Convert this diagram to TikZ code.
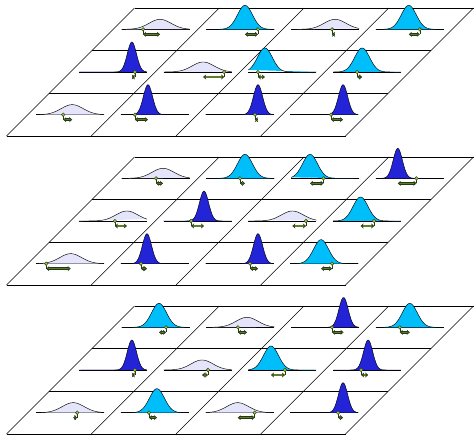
\documentclass[tikz,border=0pt]{standalone}
\usetikzlibrary{arrows.meta}
\definecolor{colL}{RGB}{228,228,250}
\definecolor{colC}{RGB}{0,190,250}
\definecolor{colD}{RGB}{35,35,215}
\definecolor{olv}{RGB}{95,125,45}
\definecolor{dotc}{RGB}{160,195,70}
\definecolor{dkg}{RGB}{35,55,20}
\def\hL{10}\def\sL{11}
\def\hC{24}\def\sC{7.5}
\def\hD{30}\def\sD{4.6}
\begin{document}
\begin{tikzpicture}[x=1pt,y=-1pt,
  gridline/.style={black,line width=0.6pt},
  baseline/.style={black,line width=0.6pt},
  bell/.style={draw=black,line width=0.45pt},
  arrow under/.style={dkg,line width=2.6pt,shorten <=2pt,shorten >=2pt},
  shift arrow/.style={olv,line width=1.4pt,{Stealth[length=3pt,width=5pt,color=dkg,fill=olv,line width=0.4pt]}-{Stealth[length=3pt,width=5pt,color=dkg,fill=olv,line width=0.4pt]}},
  stem/.style={dkg,line width=0.5pt},
  sample/.style={fill=dotc,draw=dkg,line width=0.4pt}]
\useasboundingbox (0,0) rectangle (474,434);
% grids
\foreach \lay in {0,1,2} {
  \pgfmathsetmacro\yt{8+149*\lay}
  \foreach \k in {0,...,3} {
    \draw[gridline] (134.5-\k*128/3,\yt+\k*128/3) -- ++(339,0);
  }
  \foreach \k in {0,...,4} {
    \draw[gridline] (134.5+\k*84.75,\yt) -- ++(-128,128);
  }
}
% cells
\foreach \lay/\row/\col/\typ/\mn/\ds in {
0/0/0/L/4.5/-12.5, 0/0/1/C/4.7/17.7, 0/0/2/L/10/7, 0/0/3/C/-1/10,
0/1/0/D/19/22, 0/1/1/L/5.5/26.5, 0/1/2/C/-17.5/-24.5, 0/1/3/C/-5/-10,
0/2/0/L/2/-7, 0/2/1/D/-7/-20, 0/2/2/D/18.3/15.3, 0/2/3/D/18.6/6.6,
1/0/0/L/7.5/0.5, 1/0/1/C/4.7/-0.3, 1/0/2/C/-15/-1.5, 1/0/3/D/-12/6.7,
1/1/0/L/14/2, 1/1/1/D/6.4/-6.6, 1/1/2/L/10/23.6, 1/1/3/C/-6.6/7,
1/2/0/L/0.5/-24, 1/2/1/D/-8/-14, 1/2/2/D/18.3/10.3, 1/2/3/C/-3.4/7.6,
2/0/0/C/3.5/10.5, 2/0/1/L/6.7/-2.3, 2/0/2/D/18.5/7, 2/0/3/C/0/-10,
2/1/0/D/19/22, 2/1/1/L/4.4/10.4, 2/1/2/C/-11.4/2.6, 2/1/3/D/1/-6,
2/2/0/L/3/7, 2/2/1/C/2/-6, 2/2/2/L/-2/15, 2/2/3/D/18.6/13.6} {
  \pgfmathsetmacro\yb{8+149*\lay+(\row+0.5)*128/3}
  \pgfmathsetmacro\xc{134.5-(\row+0.5)*128/3+(\col+0.5)*84.75}
  \edef\hh{\csname h\typ\endcsname}
  \edef\ss{\csname s\typ\endcsname}
  \draw[baseline] (\xc-34,\yb) -- (\xc+34,\yb);
  \filldraw[bell,fill=col\typ] plot[domain=-34:34,samples=69,smooth]
    ({\xc+\x},{\yb-\hh*exp(-min((\x-\mn)*(\x-\mn)/(2*\ss*\ss),20))});
  \draw[stem] (\xc+\ds,\yb) -- (\xc+\ds,\yb+5);
  \pgfmathsetmacro\alen{abs(\ds-\mn)}
  \ifdim\alen pt>5pt
    \draw[arrow under] (\xc+\mn,\yb+5) -- (\xc+\ds,\yb+5);
  \fi
  \draw[shift arrow] (\xc+\mn,\yb+5) -- (\xc+\ds,\yb+5);
  \filldraw[sample] (\xc+\ds,\yb) circle (1.8pt);
}
\end{tikzpicture}
\end{document}
